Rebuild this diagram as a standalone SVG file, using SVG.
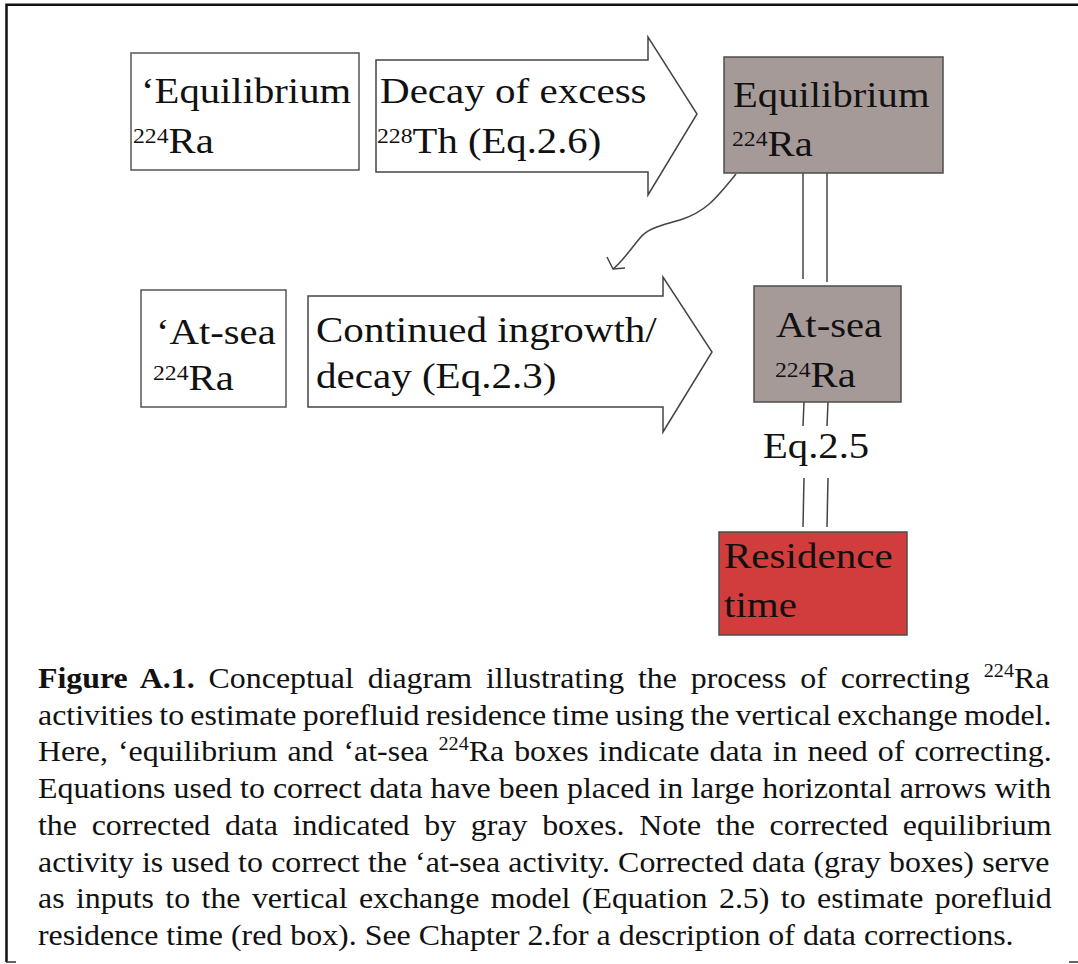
<svg xmlns="http://www.w3.org/2000/svg" width="1078" height="964" viewBox="0 0 1078 964">
<style>
.box{fill:#ffffff;stroke:#555555;stroke-width:1.5}
.gray{fill:#a69a99;stroke:#4d4d4d;stroke-width:1.5}
.red{fill:#d13c3c;stroke:#4d4d4d;stroke-width:1.5}
.arr{fill:#ffffff;stroke:#444444;stroke-width:1.5;stroke-linejoin:miter}
.ln{fill:none;stroke:#444444;stroke-width:1.5}
.t{font-family:"Liberation Serif","Times New Roman",serif;font-size:36px;fill:#111111}
.sup{font-size:21px}
.cap{font-family:"Liberation Serif","Times New Roman",serif;font-size:28.5px;fill:#111111}
.csup{font-size:18px}
.frame{fill:none;stroke:#111111;stroke-width:2.5}
</style>

<g id="frame">
<path class="frame" d="M6.5,962 L6.5,4.8 L1078,4.8"/>
<path d="M6,962 L16,962 M1069,962 L1078,962" fill="none" stroke="#333" stroke-width="1.5"/>
</g>

<g id="connectors">
<line class="ln" x1="803" y1="173" x2="803" y2="279"/>
<line class="ln" x1="827" y1="173" x2="827" y2="282"/>
<line class="ln" x1="804" y1="402" x2="803" y2="426"/>
<line class="ln" x1="828" y1="402" x2="827" y2="426"/>
<line class="ln" x1="804" y1="478" x2="803" y2="527"/>
<line class="ln" x1="828" y1="478" x2="827" y2="527"/>
<path class="ln" d="M736,174 C715,200 705,212 680,220 C660,226 648,228 640,238 C630,250 622,262 613,269"/>
<polyline class="ln" points="607,257 613,269 625,268"/>
</g>

<g id="node-equilibrium-raw">
<rect class="box" x="131" y="53" width="228" height="117"/>
<text class="t" transform="translate(141,103) scale(1.13,1)">‘Equilibrium</text>
<text class="t" transform="translate(133,153) scale(1.13,1)"><tspan class="sup" dy="-10">224</tspan><tspan dy="10">Ra</tspan></text>
</g>

<g id="node-decay-arrow">
<polygon class="arr" points="376,60 648,60 648,37 697,114 648,195 648,172 376,172"/>
<text class="t" transform="translate(380,103) scale(1.14,1)">Decay of excess</text>
<text class="t" transform="translate(377,153) scale(1.13,1)"><tspan class="sup" dy="-10">228</tspan><tspan dy="10">Th (Eq.2.6)</tspan></text>
</g>

<g id="node-equilibrium-corrected">
<rect class="gray" x="724" y="57" width="219" height="116"/>
<text class="t" transform="translate(733,107) scale(1.13,1)">Equilibrium</text>
<text class="t" transform="translate(732,156) scale(1.13,1)"><tspan class="sup" dy="-10">224</tspan><tspan dy="10">Ra</tspan></text>
</g>

<g id="node-atsea-raw">
<rect class="box" x="141" y="290" width="145" height="117"/>
<text class="t" transform="translate(156,344) scale(1.13,1)">‘At-sea</text>
<text class="t" transform="translate(153,390) scale(1.13,1)"><tspan class="sup" dy="-10">224</tspan><tspan dy="10">Ra</tspan></text>
</g>

<g id="node-ingrowth-arrow">
<polygon class="arr" points="308,296 663,296 663,277 712,352 663,432 663,407 308,407"/>
<text class="t" transform="translate(316,342) scale(1.14,1)">Continued ingrowth/</text>
<text class="t" transform="translate(316,388) scale(1.14,1)">decay (Eq.2.3)</text>
</g>

<g id="node-atsea-corrected">
<rect class="gray" x="754" y="286" width="147" height="116"/>
<text class="t" transform="translate(776,337) scale(1.13,1)">At-sea</text>
<text class="t" transform="translate(775,387) scale(1.13,1)"><tspan class="sup" dy="-10">224</tspan><tspan dy="10">Ra</tspan></text>
</g>

<g id="label-eq25">
<text class="t" transform="translate(763,458) scale(1.13,1)">Eq.2.5</text>
</g>

<g id="node-residence">
<rect class="red" x="719" y="532" width="188" height="103"/>
<text class="t" transform="translate(724,568) scale(1.14,1)">Residence</text>
<text class="t" transform="translate(724,617) scale(1.14,1)">time</text>
</g>

<g id="caption">
<text class="cap" transform="translate(38,688) scale(1.119,1)" word-spacing="5.26"><tspan font-weight="bold">Figure A.1.</tspan> Conceptual diagram illustrating the process of correcting <tspan class="csup" dy="-11">224</tspan><tspan dy="11">Ra</tspan></text>
<text class="cap" transform="translate(38,724.5) scale(1.119,1)" word-spacing="-1.59">activities to estimate porefluid residence time using the vertical exchange model.</text>
<text class="cap" transform="translate(38,761) scale(1.119,1)" word-spacing="1.86">Here, ‘equilibrium and ‘at-sea <tspan class="csup" dy="-11">224</tspan><tspan dy="11">Ra boxes indicate data in need of correcting.</tspan></text>
<text class="cap" transform="translate(38,798) scale(1.119,1)" word-spacing="0.07">Equations used to correct data have been placed in large horizontal arrows with</text>
<text class="cap" transform="translate(38,835) scale(1.119,1)" word-spacing="6.01">the corrected data indicated by gray boxes. Note the corrected equilibrium</text>
<text class="cap" transform="translate(38,871.5) scale(1.119,1)" word-spacing="0.26">activity is used to correct the ‘at-sea activity. Corrected data (gray boxes) serve</text>
<text class="cap" transform="translate(38,908) scale(1.119,1)" word-spacing="3.08">as inputs to the vertical exchange model (Equation 2.5) to estimate porefluid</text>
<text class="cap" transform="translate(38,945) scale(1.119,1)">residence time (red box). See Chapter 2.for a description of data corrections.</text>
</g>
</svg>
